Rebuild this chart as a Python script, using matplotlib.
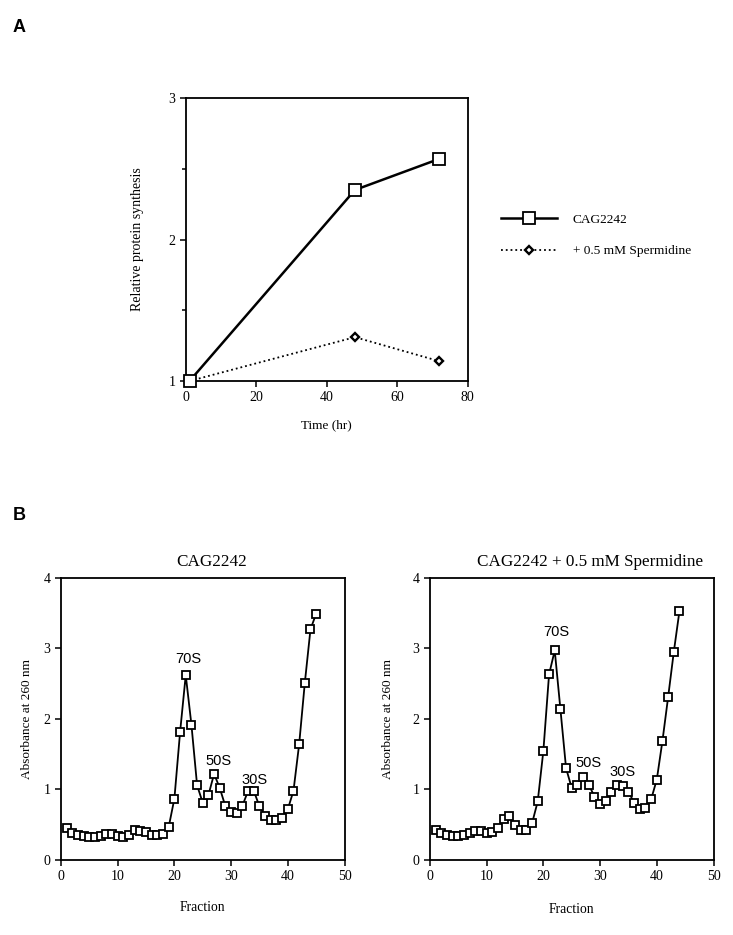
import numpy as np
import matplotlib.pyplot as plt

plt.rcParams['font.family'] = 'Liberation Serif'

# panel A: relative protein synthesis vs time
time_hr = [1, 48, 72]
cag = [1.0, 2.35, 2.57]
sperm = [1.0, 1.31, 1.14]

# panel B: sucrose gradient profiles
frac_left = np.arange(1, 46)
abs_left = [0.45, 0.38, 0.35, 0.34, 0.33, 0.33, 0.34, 0.37, 0.37, 0.34,
            0.33, 0.36, 0.42, 0.41, 0.39, 0.36, 0.36, 0.37, 0.47, 0.87,
            1.81, 2.62, 1.92, 1.06, 0.81, 0.92, 1.22, 1.02, 0.76, 0.68,
            0.67, 0.77, 0.98, 0.98, 0.76, 0.63, 0.57, 0.57, 0.60, 0.72,
            0.98, 1.64, 2.51, 3.27, 3.49]
frac_right = np.arange(1, 45)
abs_right = [0.43, 0.38, 0.36, 0.34, 0.34, 0.35, 0.38, 0.41, 0.41, 0.38,
             0.39, 0.45, 0.58, 0.62, 0.50, 0.43, 0.42, 0.52, 0.83, 1.55,
             2.63, 2.97, 2.14, 1.30, 1.02, 1.06, 1.17, 1.07, 0.90, 0.80,
             0.84, 0.96, 1.06, 1.05, 0.97, 0.81, 0.72, 0.73, 0.86, 1.14,
             1.69, 2.31, 2.95, 3.53]
peaks = ['70S', '50S', '30S']
peak_pos_left = [(22.4, 2.85), (27.7, 1.41), (34.1, 1.14)]
peak_pos_right = [(22.2, 3.23), (27.9, 1.38), (33.9, 1.25)]

fig = plt.figure(figsize=(7.33, 9.35), dpi=100)


def style(ax, size):
    for s in ax.spines.values():
        s.set_linewidth(1.3)
    ax.tick_params(which='both', direction='out', width=1.1, labelsize=size,
                   top=False, right=False)
    ax.tick_params(which='major', length=4)
    ax.tick_params(which='minor', length=3)


# ---- A
axA = fig.add_axes([0.2538, 0.5925, 0.384, 0.3027])
axA.plot(time_hr, sperm, ':', color='black', lw=1.3, marker='D', ms=4.5,
         mfc='white', mec='black', mew=1.7, label='+ 0.5 mM Spermidine',
         clip_on=False, zorder=3)
axA.plot(time_hr, cag, '-', color='black', lw=1.8, marker='s', ms=8,
         mfc='white', mec='black', mew=1.3, label='CAG2242',
         clip_on=False, zorder=4)
axA.set_xlim(0, 80)
axA.set_ylim(1, 3)
axA.set_xticks([0, 20, 40, 60, 80])
axA.set_yticks([1, 2, 3])
axA.set_yticks([1.5, 2.5], minor=True)
style(axA, 10)
axA.set_xlabel('Time (hr)', fontsize=9.5)
axA.set_ylabel('Relative protein synthesis', fontsize=10)
axA.yaxis.set_label_coords(-0.15, 0.5)
axA.xaxis.set_label_coords(0.5, -0.135)
h, l = axA.get_legend_handles_labels()
fig.legend(h[::-1], l[::-1], loc='upper left',
           bbox_to_anchor=(0.683, 0.772), frameon=False, fontsize=9.6,
           handlelength=4.2, handletextpad=1.2, labelspacing=1.45,
           borderpad=0, borderaxespad=0)

# ---- B
axL = fig.add_axes([0.0832, 0.0802, 0.3868, 0.3019])
axR = fig.add_axes([0.5866, 0.0802, 0.3868, 0.3019])
for ax, fr, ab, pos in [(axL, frac_left, abs_left, peak_pos_left),
                        (axR, frac_right, abs_right, peak_pos_right)]:
    ax.plot(fr, ab, '-', color='black', lw=1.3, marker='s', ms=6.3,
            mfc='white', mec='black', mew=1.3)
    ax.set_xlim(0, 50)
    ax.set_ylim(0, 4)
    ax.set_xticks([0, 10, 20, 30, 40, 50])
    ax.set_yticks([0, 1, 2, 3, 4])
    style(ax, 10)
    ax.set_xlabel('Fraction', fontsize=9.8)
    ax.set_ylabel('Absorbance at 260 nm', fontsize=9.5)
    for lab, (px, py) in zip(peaks, pos):
        ax.text(px, py, lab, fontsize=10.5, family='Liberation Sans',
                ha='center', va='center')

axL.yaxis.set_label_coords(-0.097, 0.5)
axR.yaxis.set_label_coords(-0.128, 0.5)
axL.xaxis.set_label_coords(0.5, -0.145)
axR.xaxis.set_label_coords(0.5, -0.153)
axL.text(0.53, 1.041, 'CAG2242', transform=axL.transAxes, fontsize=12.3,
         ha='center', va='baseline')
axR.text(0.564, 1.041, 'CAG2242 + 0.5 mM Spermidine', transform=axR.transAxes,
         fontsize=12.3, ha='center', va='baseline')

fig.text(0.017, 0.971, 'A', fontsize=13, fontweight='bold',
         family='Liberation Sans', va='center')
fig.text(0.017, 0.449, 'B', fontsize=13, fontweight='bold',
         family='Liberation Sans', va='center')

fig.savefig('out.png', dpi=100)
